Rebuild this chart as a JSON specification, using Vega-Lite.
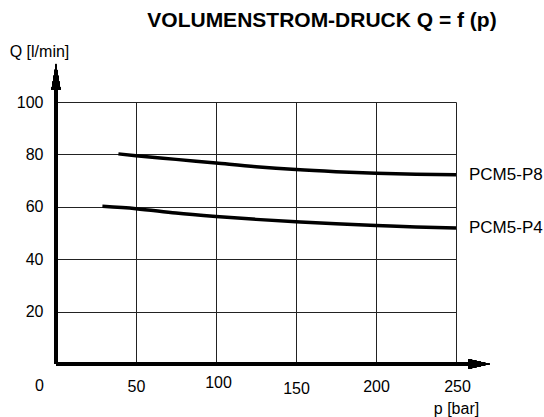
{
  "$schema": "https://vega.github.io/schema/vega-lite/v6.json",
  "width": 400,
  "height": 262,
  "autosize": "none",
  "padding": {"left": 56, "top": 102, "right": 88, "bottom": 53},
  "background": "white",
  "config": {"view": {"stroke": null}, "font": "Liberation Sans"},
  "title": {
    "text": "VOLUMENSTROM-DRUCK Q = f (p)",
    "font": "Liberation Sans",
    "fontSize": 21,
    "fontWeight": "bold",
    "color": "black",
    "anchor": "middle",
    "frame": "group",
    "baseline": "alphabetic",
    "dx": 66,
    "offset": -5
  },
  "datasets": {
    "curves": [
      {"series": "PCM5-P8", "p": 39, "q": 80.2},
      {"series": "PCM5-P8", "p": 50, "q": 79.5},
      {"series": "PCM5-P8", "p": 75, "q": 78.1},
      {"series": "PCM5-P8", "p": 100, "q": 76.7},
      {"series": "PCM5-P8", "p": 125, "q": 75.3},
      {"series": "PCM5-P8", "p": 150, "q": 74.2},
      {"series": "PCM5-P8", "p": 175, "q": 73.4},
      {"series": "PCM5-P8", "p": 200, "q": 72.8},
      {"series": "PCM5-P8", "p": 225, "q": 72.4},
      {"series": "PCM5-P8", "p": 250, "q": 72.2},
      {"series": "PCM5-P4", "p": 29, "q": 60.2},
      {"series": "PCM5-P4", "p": 50, "q": 59.3},
      {"series": "PCM5-P4", "p": 75, "q": 57.6},
      {"series": "PCM5-P4", "p": 100, "q": 56.3},
      {"series": "PCM5-P4", "p": 125, "q": 55.2},
      {"series": "PCM5-P4", "p": 150, "q": 54.3},
      {"series": "PCM5-P4", "p": 175, "q": 53.5},
      {"series": "PCM5-P4", "p": 200, "q": 52.9},
      {"series": "PCM5-P4", "p": 225, "q": 52.3},
      {"series": "PCM5-P4", "p": 250, "q": 51.9}
    ]
  },
  "data": {"name": "curves"},
  "layer": [
    {
      "mark": {"type": "line", "color": "black", "strokeWidth": 3.5, "interpolate": "monotone"},
      "encoding": {
        "x": {
          "field": "p",
          "type": "quantitative",
          "scale": {"domain": [0, 250], "nice": false, "zero": true},
          "axis": {
            "values": [0, 50, 100, 150, 200, 250],
            "grid": true,
            "gridColor": "#222222",
            "gridWidth": 1,
            "domain": false,
            "ticks": false,
            "tickSize": 0,
            "labelFont": "Liberation Sans",
            "labelFontSize": 16,
            "labelColor": "black",
            "labelFlush": false,
            "labelOverlap": false,
            "labelBaseline": "top",
            "labelPadding": {
              "condition": [
                {"test": "datum.value == 100", "value": 10},
                {"test": "datum.value == 150", "value": 16},
                {"test": "datum.value == 0", "value": 13}
              ],
              "value": 14
            },
            "labelOffset": {
              "condition": [
                {"test": "datum.value == 0", "value": -17},
                {"test": "datum.value == 100", "value": 2},
                {"test": "datum.value == 250", "value": 1}
              ],
              "value": 0
            },
            "title": "p [bar]",
            "titleFont": "Liberation Sans",
            "titleFontSize": 16,
            "titleFontWeight": "normal",
            "titleColor": "black",
            "titleX": 400,
            "titleY": 49.5,
            "titleAlign": "center",
            "titleBaseline": "alphabetic"
          }
        },
        "y": {
          "field": "q",
          "type": "quantitative",
          "scale": {"domain": [0, 100], "nice": false},
          "axis": {
            "values": [20, 40, 60, 80, 100],
            "grid": true,
            "gridColor": "#222222",
            "gridWidth": 1,
            "domain": false,
            "ticks": false,
            "tickSize": 0,
            "labelFont": "Liberation Sans",
            "labelFontSize": 16,
            "labelColor": "black",
            "labelPadding": 13,
            "labelFlush": false,
            "labelOverlap": false,
            "title": "Q [l/min]",
            "titleFont": "Liberation Sans",
            "titleFontSize": 16,
            "titleFontWeight": "normal",
            "titleColor": "black",
            "titleAngle": 0,
            "titleX": -17,
            "titleY": -46,
            "titleAlign": "center",
            "titleBaseline": "alphabetic"
          }
        },
        "detail": {"field": "series"}
      }
    },
    {
      "transform": [{"filter": "datum.p == 250"}],
      "mark": {"type": "text", "align": "left", "baseline": "middle", "dx": 13, "fontSize": 17, "font": "Liberation Sans", "color": "black"},
      "encoding": {
        "x": {"field": "p", "type": "quantitative"},
        "y": {"field": "q", "type": "quantitative"},
        "text": {"field": "series"}
      }
    },
    {
      "mark": {"type": "rule", "color": "black", "strokeWidth": 2.5},
      "encoding": {
        "x": {"datum": 0, "type": "quantitative"},
        "y": {"datum": 0, "type": "quantitative"},
        "y2": {"datum": 105}
      }
    },
    {
      "mark": {"type": "rule", "color": "black", "strokeWidth": 2.5},
      "encoding": {
        "x": {"datum": 0, "type": "quantitative"},
        "x2": {"datum": 258},
        "y": {"datum": 0, "type": "quantitative"}
      }
    },
    {
      "mark": {"type": "point", "shape": "M0,-1L0.35,1L-0.35,1Z", "filled": true, "color": "black", "opacity": 1, "size": 676, "strokeWidth": 0},
      "encoding": {
        "x": {"datum": 0, "type": "quantitative"},
        "y": {"datum": 109.6, "type": "quantitative"}
      }
    },
    {
      "mark": {"type": "point", "shape": "M1,0L-1,-0.45L-1,0.45Z", "filled": true, "color": "black", "opacity": 1, "size": 484, "strokeWidth": 0},
      "encoding": {
        "x": {"datum": 264.4, "type": "quantitative"},
        "y": {"datum": 0, "type": "quantitative"}
      }
    }
  ]
}
